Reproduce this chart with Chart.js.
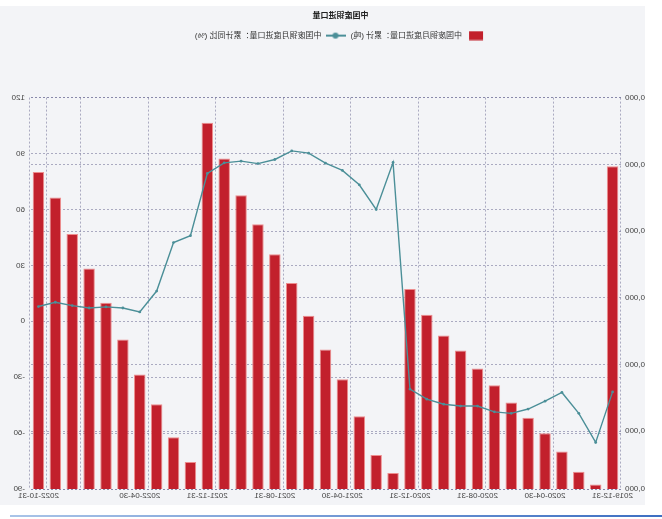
<!DOCTYPE html>
<html>
<head>
<meta charset="utf-8">
<script src="https://cdn.jsdelivr.net/npm/chart.js@4.4.1/dist/chart.umd.min.js"></script>
<style>
  html, body { margin: 0; padding: 0; background: #fff; }
  /* the reference picture is mirrored left-right, so the whole chart is flipped */
  #wrap { position: relative; width: 662px; height: 519px; overflow: hidden; transform: scaleX(-1); }
  #panel { position: absolute; left: 17px; top: 6px; width: 645px; height: 499px; background: #f3f4f7; overflow: hidden; }
  #myChart { position: absolute; left: -36px; top: -6px; }
  #rule { position: absolute; left: 0; top: 515px; width: 652px; height: 2px; background: linear-gradient(to right, #3d6fc2, #a9c4e8); }
</style>
</head>
<body>
<div id="wrap">
  <div id="panel"><canvas id="myChart" width="681" height="505"></canvas></div>
  <div id="rule"></div>
</div>
<script>
// data
const months = [
  '2019-12-31',
  '2020-01-31','2020-02-29','2020-03-31','2020-04-30','2020-05-31','2020-06-30',
  '2020-07-31','2020-08-31','2020-09-30','2020-10-31','2020-11-30','2020-12-31',
  '2021-01-31','2021-02-28','2021-03-31','2021-04-30','2021-05-31','2021-06-30',
  '2021-07-31','2021-08-31','2021-09-30','2021-10-31','2021-11-30','2021-12-31',
  '2022-01-31','2022-02-28','2022-03-31','2022-04-30','2022-05-31','2022-06-30',
  '2022-07-31','2022-08-31','2022-09-30','2022-10-31'
];
// 累计 (吨)
const importTons = [
  1491000,
  60000, 118000, 209000, 291000, 360000, 429000, 506000, 582000, 663000, 730000, 824000, 939000,
  112000, 193000, 367000, 533000, 667000, 819000, 966000, 1096000, 1230000, 1361000, 1526000, 1687000,
  161000, 273000, 421000, 555000, 712000, 878000, 1031000, 1187000, 1351000, 1466000
];
// 累计同比 (%)
const importYoY = [
  -37.9,
  -65.0, -49.4, -38.2, -42.9, -47.1, -49.4, -48.6, -45.5, -45.5, -44.5, -41.8, -36.4,
  85.2, 60.0, 73.2, 80.9, 84.8, 90.2, 91.4, 86.8, 84.6, 85.9, 85.0, 79.3,
  45.9, 42.2, 16.2, 5.0, 7.1, 7.7, 7.1, 8.4, 10.2, 7.9
];
const tonTicks = [40000, 300000, 600000, 900000, 1200000, 1500000, 1800000];
const pctTicks = [-90, -60, -30, 0, 30, 60, 90, 120];

// styles
const barColor = '#c2202c';
const lineColor = '#4b8f98';
const gridColor = 'rgba(110, 110, 150, 0.55)';
const fontFamily = '"Liberation Sans", "Noto Sans CJK SC", sans-serif';
const hidden = 'rgba(0,0,0,0)';

// label every 4th month, plus the last one
const showLabel = (i) => (i % 4 === 0 && i <= 28) || i === months.length - 1;
const showGrid = (i) => i === undefined || i % 4 === 0 || i >= months.length - 1;

// legend icons
function legendIcon(draw) {
  const c = document.createElement('canvas');
  c.width = 20; c.height = 10;
  draw(c.getContext('2d'));
  return c;
}
const barIcon = legendIcon(g => {
  g.fillStyle = barColor;
  g.fillRect(3, 0.5, 14, 9);
});
const lineIcon = legendIcon(g => {
  g.strokeStyle = lineColor; g.lineWidth = 2;
  g.beginPath(); g.moveTo(0, 5); g.lineTo(20, 5); g.stroke();
  g.fillStyle = lineColor;
  g.beginPath(); g.arc(10, 5, 3, 0, Math.PI * 2); g.fill();
});

// push the plot down below the legend
const legendGap = {
  id: 'legendGap',
  beforeLayout(chart) {
    const lg = chart.legend;
    if (lg && !lg._gap) {
      const fit = lg.fit;
      lg.fit = function () { fit.call(this); this.height += 48; };
      lg._gap = true;
    }
  }
};

const tickFont = { family: fontFamily, size: 8 };

const config = {
  type: 'bar',
  data: {
    labels: months,
    datasets: [
      {
        type: 'bar',
        label: '中国废铜月度进口量：累计 (吨)',
        data: importTons,
        yAxisID: 'y',
        backgroundColor: barColor,
        borderColor: 'rgba(236, 130, 130, 0.9)',
        borderWidth: 1,
        barPercentage: 0.68,
        categoryPercentage: 1,
        order: 1
      },
      {
        type: 'line',
        label: '中国废铜月度进口量：累计同比 (%)',
        data: importYoY,
        yAxisID: 'y2',
        borderColor: lineColor,
        backgroundColor: lineColor,
        borderWidth: 1.4,
        pointRadius: 1.4,
        pointBorderWidth: 0,
        pointHoverRadius: 1.4,
        tension: 0,
        order: 0
      }
    ]
  },
  options: {
    responsive: false,
    animation: false,
    devicePixelRatio: 1,
    layout: { padding: 0 },
    plugins: {
      tooltip: { enabled: false },
      title: {
        display: true,
        text: '中国废铜进口量',
        color: '#222',
        font: { family: fontFamily, size: 8, weight: 'bold' },
        padding: { top: 11, bottom: 6 }
      },
      legend: {
        display: true,
        labels: {
          usePointStyle: true,
          pointStyleWidth: 20,
          padding: 5,
          color: '#333',
          font: { family: fontFamily, size: 8 },
          generateLabels: (chart) => chart.data.datasets.map((ds, i) => ({
            text: ds.label,
            pointStyle: i === 0 ? barIcon : lineIcon,
            fillStyle: ds.backgroundColor,
            strokeStyle: ds.borderColor,
            lineWidth: 0,
            hidden: false,
            datasetIndex: i,
            fontColor: '#333'
          }))
        }
      }
    },
    scales: {
      x: {
        offset: true,
        ticks: {
          autoSkip: false,
          maxRotation: 0,
          minRotation: 0,
          padding: 2,
          color: '#444',
          font: tickFont,
          callback: (v, i) => showLabel(i) ? months[i] : ''
        },
        grid: {
          offset: true,
          drawTicks: false,
          color: (c) => showGrid(c.index) ? gridColor : hidden
        },
        border: { display: false, dash: [2, 2] },
        afterFit: (s) => { s.height = 16; }
      },
      y: {
        position: 'left',
        min: 40000,
        max: 1800000,
        afterBuildTicks: (s) => { s.ticks = tonTicks.map(v => ({ value: v })); },
        ticks: {
          padding: 4,
          color: '#444',
          font: tickFont,
          callback: (v) => v.toLocaleString('en-US')
        },
        grid: { drawTicks: false, color: gridColor },
        border: { display: false, dash: [2, 2] },
        afterFit: (s) => { s.width = 60; }
      },
      y2: {
        position: 'right',
        min: -90,
        max: 120,
        afterBuildTicks: (s) => { s.ticks = pctTicks.map(v => ({ value: v })); },
        ticks: {
          padding: 5,
          color: '#444',
          font: tickFont
        },
        grid: { drawTicks: false, color: gridColor },
        border: { display: false, dash: [2, 2] },
        afterFit: (s) => { s.width = 30; }
      }
    }
  },
  plugins: [legendGap]
};

const myChart = new Chart(document.getElementById('myChart'), config);
</script>
</body>
</html>
